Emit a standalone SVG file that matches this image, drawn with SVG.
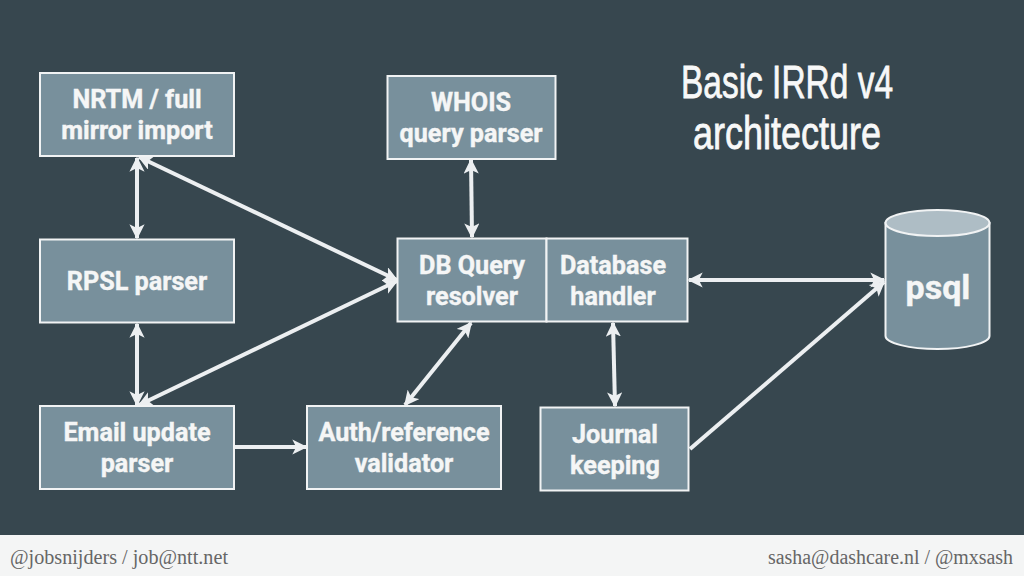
<svg xmlns="http://www.w3.org/2000/svg" width="1024" height="576" viewBox="0 0 1024 576">
<style>
.box{fill:#78909c;stroke:#f1f3f4;stroke-width:2}
.t{font-family:Roboto,"Liberation Sans",sans-serif;font-weight:700;font-size:25.200px;fill:#f5f6f6;text-anchor:middle;stroke:#f5f6f6;stroke-width:.4}
.c{fill:none;stroke:#eceff1;stroke-width:4}
.title{font-family:"Liberation Sans",sans-serif;font-size:47px;fill:#f7f8f8;stroke:#f7f8f8;stroke-width:.8}
.foot{font-family:"Liberation Serif",serif;font-size:20px;fill:#666}
</style>
<defs>
<marker id="a" viewBox="0 0 10 10" refX="9" refY="5" markerWidth="3.800" markerHeight="3.800" orient="auto-start-reverse" markerUnits="strokeWidth"><path d="M0 0L10 5L0 10L2.500 5Z" fill="#eceff1"/></marker>
</defs>
<rect width="1024" height="576" fill="#37474f"/>
<rect id="footer-bar" y="535" width="1024" height="41" fill="#f4f5f5"/>
<text class="foot" x="10" y="564" textLength="218" lengthAdjust="spacingAndGlyphs">@jobsnijders / job@ntt.net</text>
<text class="foot" x="768" y="564" textLength="245" lengthAdjust="spacingAndGlyphs">sasha@dashcare.nl / @mxsash</text>
<text class="title" x="681" y="98" textLength="212" lengthAdjust="spacingAndGlyphs">Basic IRRd v4</text>
<text class="title" x="693" y="149" textLength="188" lengthAdjust="spacingAndGlyphs">architecture</text>
<g id="connectors">
<path class="c" d="M137 158V238" marker-start="url(#a)" marker-end="url(#a)"/>
<path class="c" d="M137 324V405" marker-start="url(#a)" marker-end="url(#a)"/>
<path class="c" d="M139 157L397 280" marker-start="url(#a)" marker-end="url(#a)"/>
<path class="c" d="M139 405L397 281" marker-start="url(#a)" marker-end="url(#a)"/>
<path class="c" d="M471 160L472 237" marker-start="url(#a)" marker-end="url(#a)"/>
<path class="c" d="M471 323L405 405" marker-start="url(#a)" marker-end="url(#a)"/>
<path class="c" d="M235 447H306" marker-end="url(#a)"/>
<path class="c" d="M613 323L615 406" marker-start="url(#a)" marker-end="url(#a)"/>
<path class="c" d="M689 280H884" marker-start="url(#a)" marker-end="url(#a)"/>
<path class="c" d="M690 449L884 282" marker-end="url(#a)"/>
</g>
<g id="nrtm"><rect class="box" x="40" y="73" width="194" height="83"/><text class="t" x="137" y="108">NRTM / full</text><text class="t" x="137" y="139">mirror import</text></g>
<g id="whois"><rect class="box" x="387.500" y="76" width="168" height="83"/><text class="t" x="471" y="111">WHOIS</text><text class="t" x="471" y="142">query parser</text></g>
<g id="rpsl"><rect class="box" x="40" y="239.500" width="194" height="83"/><text class="t" x="137" y="290">RPSL parser</text></g>
<g id="dbquery"><rect class="box" x="397.500" y="238.500" width="149" height="83"/><text class="t" x="472" y="274">DB Query</text><text class="t" x="472" y="305">resolver</text></g>
<g id="dbhandler"><rect class="box" x="546.500" y="238.500" width="141" height="83"/><text class="t" x="613" y="274">Database</text><text class="t" x="613" y="305">handler</text></g>
<g id="email"><rect class="box" x="40" y="406" width="194" height="83"/><text class="t" x="137" y="441">Email update</text><text class="t" x="137" y="472">parser</text></g>
<g id="auth"><rect class="box" x="307" y="406" width="194" height="83"/><text class="t" x="404" y="441">Auth/reference</text><text class="t" x="404" y="472">validator</text></g>
<g id="journal"><rect class="box" x="540.500" y="407.500" width="148" height="83"/><text class="t" x="615" y="443">Journal</text><text class="t" x="615" y="474">keeping</text></g>
<g id="psql">
<path class="box" d="M885.500 223V336C885.500 343 909 349 937.500 349S989.500 343 989.500 336V223Z"/>
<ellipse cx="937.500" cy="223" rx="52" ry="13" fill="#aebdc5" stroke="#f1f3f4" stroke-width="2"/>
<text class="t" x="938" y="299" style="font-size:34px">psql</text>
</g>
</svg>
